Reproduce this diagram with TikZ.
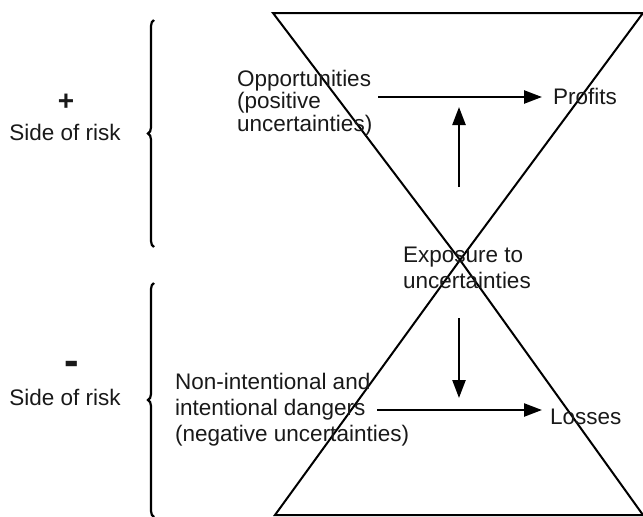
\documentclass[tikz,border=0pt]{standalone}
\usepackage{fontspec}
\setmainfont{Liberation Sans}
\usetikzlibrary{arrows.meta,decorations.pathreplacing}
\begin{document}
\begin{tikzpicture}[x=1pt,y=-1pt,
  txt/.style={font=\fontsize{22.5}{26}\selectfont, inner sep=0pt, text=black!90},
  lbl/.style={txt, align=left, anchor=west},
  edge/.style={line width=2pt, line join=miter},
  flow/.style={line width=2.4pt, -{Triangle[length=18pt,width=13pt]}},
  brc/.style={line width=2.2pt, decorate, decoration={brace, amplitude=6pt}}]
\useasboundingbox (0,0) rectangle (643,517);
% hourglass
\coordinate (tl) at (273,13);
\coordinate (tr) at (643,13);
\coordinate (cx) at (460,260);
\coordinate (bl) at (275,515);
\coordinate (br) at (643,515);
\draw[edge] (tl) -- (tr) -- (cx) -- cycle;
\draw[edge] (cx) -- (bl) -- (br) -- cycle;
% braces
\coordinate (b1s) at (154,247);
\coordinate (b1e) at (154,20);
\coordinate (b2s) at (154,517);
\coordinate (b2e) at (154,283);
\draw[brc] (b1s) -- (b1e);
\draw[brc] (b2s) -- (b2e);
% left labels
\node[txt, font=\fontsize{28}{30}\selectfont] (plus) at (66,102) {\textbf{+}};
\node[txt] (side1) at (65,132) {Side of risk};
\node[txt] (minus) at (72,370) {\scalebox{1}[2.4]{\textbf{–}}};
\node[txt] (side2) at (65,397) {Side of risk};
% texts
\node[lbl, font=\fontsize{22.5}{22.5}\selectfont] (opp) at (237,103) {Opportunities\\(positive\\uncertainties)};
\node[lbl] (prof) at (553,96) {Profits};
\node[lbl] (expo) at (403,268) {Exposure to\\uncertainties};
\node[lbl] (neg) at (175,410) {Non-intentional and\\intentional dangers\\(negative uncertainties)};
\node[lbl] (loss) at (550,417) {Losses};
% arrows
\coordinate (t0) at (378,97);
\coordinate (b0) at (377,410);
\coordinate (upS) at (459,187);
\coordinate (upE) at (459,107);
\coordinate (dnS) at (459,318);
\coordinate (dnE) at (459,398);
\draw[flow, shorten >=11pt] (t0) -- (t0 -| prof.west);
\draw[flow, shorten >=8pt] (b0) -- (b0 -| loss.west);
\draw[flow] (upS) -- (upE);
\draw[flow] (dnS) -- (dnE);
\end{tikzpicture}
\end{document}
